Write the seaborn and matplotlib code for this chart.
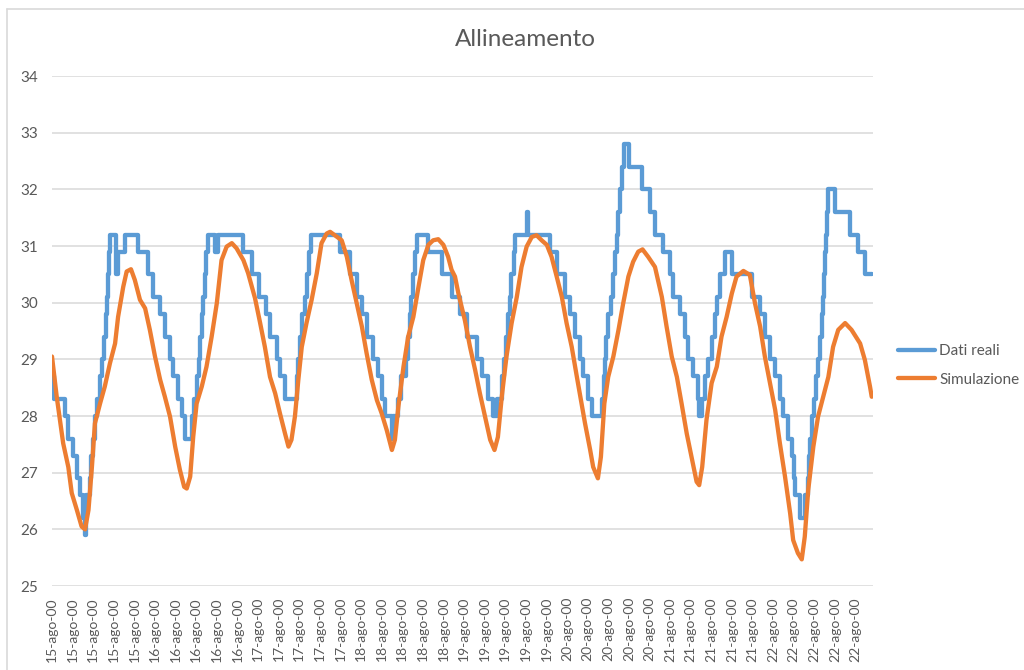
import matplotlib
matplotlib.use("Agg")
import matplotlib.pyplot as plt
from matplotlib.lines import Line2D
import pandas as pd
import seaborn as sns

# Measured temperatures (step changes): hours since 15-ago 00:00 and value
reali_ore = [
    0.0, 0.4, 3.0, 3.7, 4.9, 5.8, 6.5, 7.2, 7.7, 7.9,
    8.9, 9.1, 9.6, 10.0, 10.5, 11.2, 11.7, 12.1, 12.6, 12.8,
    13.0, 13.3, 13.5, 14.9, 15.4, 17.0, 20.0, 22.4, 23.5, 25.2,
    26.3, 27.5, 28.2, 29.4, 30.3, 31.0, 32.6, 33.1, 33.8, 34.3,
    34.5, 35.0, 35.2, 35.6, 35.9, 36.3, 38.0, 38.7, 44.5, 46.6,
    48.2, 49.9, 50.8, 52.4, 53.1, 54.3, 57.1, 57.3, 57.8, 58.3,
    58.9, 59.4, 59.9, 60.3, 67.1, 69.4, 71.1, 72.2, 73.4, 74.8,
    76.0, 76.9, 77.6, 79.2, 79.5, 80.6, 81.3, 82.5, 82.9, 83.4,
    83.6, 84.1, 84.6, 85.0, 87.6, 90.9, 93.2, 95.1, 96.7, 99.0,
    100.2, 101.6, 102.8, 103.7, 104.9, 105.3, 105.8, 106.2, 106.7, 106.9,
    107.6, 107.9, 110.7, 110.9, 116.0, 117.7, 119.5, 120.7, 121.9, 123.0,
    123.7, 124.9, 125.8, 128.2, 128.6, 128.8, 129.1, 129.5, 130.2, 130.7,
    131.2, 131.6, 131.9, 132.3, 132.8, 133.3, 134.4, 137.5, 139.3, 140.5,
    142.4, 144.0, 144.7, 146.3, 147.5, 148.2, 149.4, 150.5, 150.8, 151.5,
    152.1, 152.8, 153.8, 154.5, 154.9, 155.6, 156.8, 158.4, 163.1, 165.0,
    166.1, 167.3, 168.5, 169.6, 170.3, 171.5, 172.4, 172.9, 173.1, 174.3,
    175.4, 176.1, 176.4, 176.6, 177.1, 177.5, 178.0, 178.5, 178.9, 179.4,
    179.6, 179.9, 180.1, 180.3, 180.6, 180.8, 182.4, 185.9, 187.8, 189.4,
    191.1,
]
reali_temp = [
    28.7, 28.3, 28.0, 27.6, 27.3, 26.9, 26.6, 26.2, 25.9, 26.6,
    26.9, 27.3, 27.6, 28.0, 28.3, 28.7, 29.0, 29.4, 29.8, 30.1,
    30.5, 30.9, 31.2, 30.5, 30.9, 31.2, 30.9, 30.5, 30.1, 29.8,
    29.4, 29.0, 28.7, 28.3, 28.0, 27.6, 28.0, 28.3, 28.7, 29.0,
    29.4, 29.8, 30.1, 30.5, 30.9, 31.2, 30.9, 31.2, 30.9, 30.5,
    30.1, 29.8, 29.4, 29.0, 28.7, 28.3, 28.7, 29.0, 29.4, 29.8,
    30.1, 30.5, 30.9, 31.2, 30.9, 30.5, 30.1, 29.8, 29.4, 29.0,
    28.7, 28.3, 28.0, 27.6, 28.0, 28.3, 28.7, 29.0, 29.4, 29.8,
    30.1, 30.5, 30.9, 31.2, 30.9, 30.5, 30.1, 29.8, 29.4, 29.0,
    28.7, 28.3, 28.0, 28.3, 28.7, 29.0, 29.4, 29.8, 30.1, 30.5,
    30.9, 31.2, 31.6, 31.2, 30.9, 30.5, 30.1, 29.8, 29.4, 29.0,
    28.7, 28.3, 28.0, 28.3, 28.7, 29.0, 29.4, 29.8, 30.1, 30.5,
    30.9, 31.2, 31.6, 32.0, 32.4, 32.8, 32.4, 32.0, 31.6, 31.2,
    30.9, 30.5, 30.1, 29.8, 29.4, 29.0, 28.7, 28.3, 28.0, 28.3,
    28.7, 29.0, 29.4, 29.8, 30.1, 30.5, 30.9, 30.5, 30.1, 29.8,
    29.4, 29.0, 28.7, 28.3, 28.0, 27.6, 27.3, 26.9, 26.6, 26.2,
    26.6, 26.9, 27.3, 27.6, 28.0, 28.3, 28.7, 29.0, 29.4, 29.8,
    30.1, 30.5, 30.9, 31.2, 31.6, 32.0, 31.6, 31.2, 30.9, 30.5,
    30.5,
]

# Simulated temperatures: hours since 15-ago 00:00 and value
sim_ore = [
    0.0, 1.1, 2.6, 3.8, 4.6, 5.8, 6.9, 7.7, 8.5, 9.3,
    10.0, 11.2, 12.3, 13.5, 14.7, 15.4, 16.6, 17.4, 18.4, 19.3,
    20.5, 21.7, 22.8, 24.0, 25.2, 26.3, 27.5, 28.7, 29.8, 30.8,
    31.4, 32.2, 32.9, 33.7, 34.9, 36.0, 37.2, 38.4, 39.5, 40.7,
    41.9, 43.0, 44.6, 45.7, 47.3, 48.5, 49.6, 50.8, 52.0, 53.1,
    54.3, 55.1, 55.8, 56.6, 57.4, 58.2, 59.3, 60.5, 61.7, 62.8,
    64.0, 64.8, 65.9, 67.5, 68.7, 69.8, 71.0, 72.2, 73.3, 74.5,
    75.7, 76.8, 78.0, 79.2, 79.9, 80.7, 81.9, 83.0, 84.2, 85.4,
    86.5, 87.7, 88.8, 90.0, 91.2, 92.3, 93.1, 93.9, 94.7, 96.2,
    97.4, 98.6, 99.7, 100.9, 102.1, 103.1, 103.9, 104.8, 105.9, 107.1,
    108.3, 109.4, 110.6, 111.8, 112.9, 114.1, 115.3, 116.4, 117.6, 118.8,
    119.9, 121.1, 122.3, 123.4, 124.2, 125.4, 126.1, 127.2, 127.9, 128.7,
    129.6, 130.8, 132.0, 133.1, 134.3, 135.4, 136.6, 137.6, 138.9, 140.5,
    142.1, 143.2, 144.4, 145.6, 146.7, 147.9, 149.0, 150.2, 150.8, 151.5,
    152.5, 153.7, 154.9, 156.0, 157.2, 158.4, 159.5, 161.1, 162.6, 163.8,
    165.0, 166.1, 167.3, 168.5, 169.6, 170.8, 172.0, 172.7, 173.8, 174.7,
    175.4, 176.2, 177.4, 178.5, 179.7, 180.9, 182.0, 183.2, 184.8, 186.3,
    188.3, 189.4, 190.6, 191.0,
]
sim_temp = [
    29.05, 28.34, 27.52, 27.10, 26.64, 26.34, 26.05, 26.00, 26.34, 27.10,
    27.87, 28.22, 28.52, 28.93, 29.28, 29.75, 30.28, 30.55, 30.59, 30.40,
    30.05, 29.90, 29.52, 29.05, 28.64, 28.34, 27.99, 27.46, 27.05, 26.75,
    26.72, 26.93, 27.63, 28.22, 28.52, 28.87, 29.40, 29.99, 30.75, 30.99,
    31.05, 30.96, 30.75, 30.52, 30.08, 29.64, 29.22, 28.69, 28.40, 28.05,
    27.69, 27.46, 27.58, 27.99, 28.64, 29.22, 29.64, 30.05, 30.52, 31.05,
    31.22, 31.25, 31.19, 31.10, 30.81, 30.40, 29.99, 29.58, 29.11, 28.64,
    28.28, 28.05, 27.75, 27.40, 27.58, 28.16, 28.87, 29.40, 29.75, 30.28,
    30.75, 31.02, 31.10, 31.12, 31.02, 30.81, 30.58, 30.46, 30.16, 29.69,
    29.22, 28.81, 28.40, 27.99, 27.58, 27.40, 27.63, 28.34, 29.05, 29.64,
    30.10, 30.63, 30.99, 31.16, 31.19, 31.10, 31.02, 30.81, 30.46, 30.10,
    29.64, 29.22, 28.69, 28.22, 27.87, 27.40, 27.10, 26.90, 27.28, 28.22,
    28.69, 29.05, 29.52, 29.99, 30.46, 30.72, 30.90, 30.94, 30.81, 30.63,
    30.10, 29.58, 29.05, 28.69, 28.22, 27.69, 27.28, 26.84, 26.78, 27.10,
    27.93, 28.58, 28.87, 29.40, 29.75, 30.16, 30.46, 30.56, 30.49, 29.99,
    29.58, 29.05, 28.58, 28.11, 27.52, 26.93, 26.28, 25.81, 25.58, 25.47,
    25.87, 26.69, 27.46, 27.99, 28.34, 28.69, 29.22, 29.52, 29.64, 29.52,
    29.28, 28.99, 28.52, 28.34,
]

# Category labels on the time axis: five labels per day
giorni = [15, 16, 17, 18, 19, 20, 21, 22]
etichette_per_giorno = 5
etichette_x = [f"{g}-ago-00" for g in giorni for _ in range(etichette_per_giorno)]

assert len(reali_ore) == len(reali_temp)
assert len(sim_ore) == len(sim_temp)

BLU = "#5B9BD5"
ARANCIO = "#ED7D31"
GRIGIO_TESTO = "#595959"
GRIGIO_GRIGLIA = "#D9D9D9"

sns.set_style("white")
plt.rcParams["font.family"] = ["Lato", "DejaVu Sans"]

fig = plt.figure(figsize=(10.24, 6.70), dpi=100)
ax = fig.add_axes([52 / 1024, 1 - 586 / 670, (873 - 52) / 1024, (586 - 76) / 670])

df_reali = pd.DataFrame({"ore": reali_ore, "temp": reali_temp})
df_sim = pd.DataFrame({"ore": sim_ore, "temp": sim_temp})

sns.lineplot(data=df_reali, x="ore", y="temp", ax=ax, color=BLU, lw=3.1,
             drawstyle="steps-post", estimator=None, sort=False,
             label="Dati reali")
sns.lineplot(data=df_sim, x="ore", y="temp", ax=ax, color=ARANCIO, lw=3.1,
             estimator=None, sort=False, solid_joinstyle="round",
             solid_capstyle="round", label="Simulazione")

ax.set_xlim(0, 191.3)
ax.set_ylim(25, 34)
ax.set_yticks(range(25, 35))
passo = 24 / etichette_per_giorno
ax.set_xticks([i * passo for i in range(len(etichette_x))])
ax.set_xticklabels(etichette_x, rotation=90, fontsize=10, color=GRIGIO_TESTO)
for t in ax.get_yticklabels():
    t.set_fontsize(11)
    t.set_color(GRIGIO_TESTO)
ax.tick_params(axis="both", length=0)
ax.tick_params(axis="x", pad=8)
ax.tick_params(axis="y", pad=10)
ax.set_xlabel("")
ax.set_ylabel("")
ax.yaxis.grid(True, color=GRIGIO_GRIGLIA, lw=1.1)
ax.xaxis.grid(False)
ax.set_axisbelow(True)
for s in ax.spines.values():
    s.set_visible(False)

ax.legend(loc="center left", bbox_to_anchor=(898 / 1024, 1 - 365.5 / 670),
          bbox_transform=fig.transFigure, frameon=False, fontsize=11,
          labelcolor=GRIGIO_TESTO, handlelength=2.4, handletextpad=0.3,
          labelspacing=0.95, borderpad=0, borderaxespad=0)

fig.text(525 / 1024, 1 - 40 / 670, "Allineamento", ha="center", va="center",
         fontsize=17.5, color=GRIGIO_TESTO)

# Chart area frame (left and top edges)
fig.add_artist(Line2D([7 / 1024, 7 / 1024], [0, 1 - 8.5 / 670],
                      transform=fig.transFigure, color=GRIGIO_GRIGLIA, lw=1.2))
fig.add_artist(Line2D([7 / 1024, 1], [1 - 8.5 / 670, 1 - 8.5 / 670],
                      transform=fig.transFigure, color=GRIGIO_GRIGLIA, lw=1.2))

fig.savefig("out.png", dpi=100)
